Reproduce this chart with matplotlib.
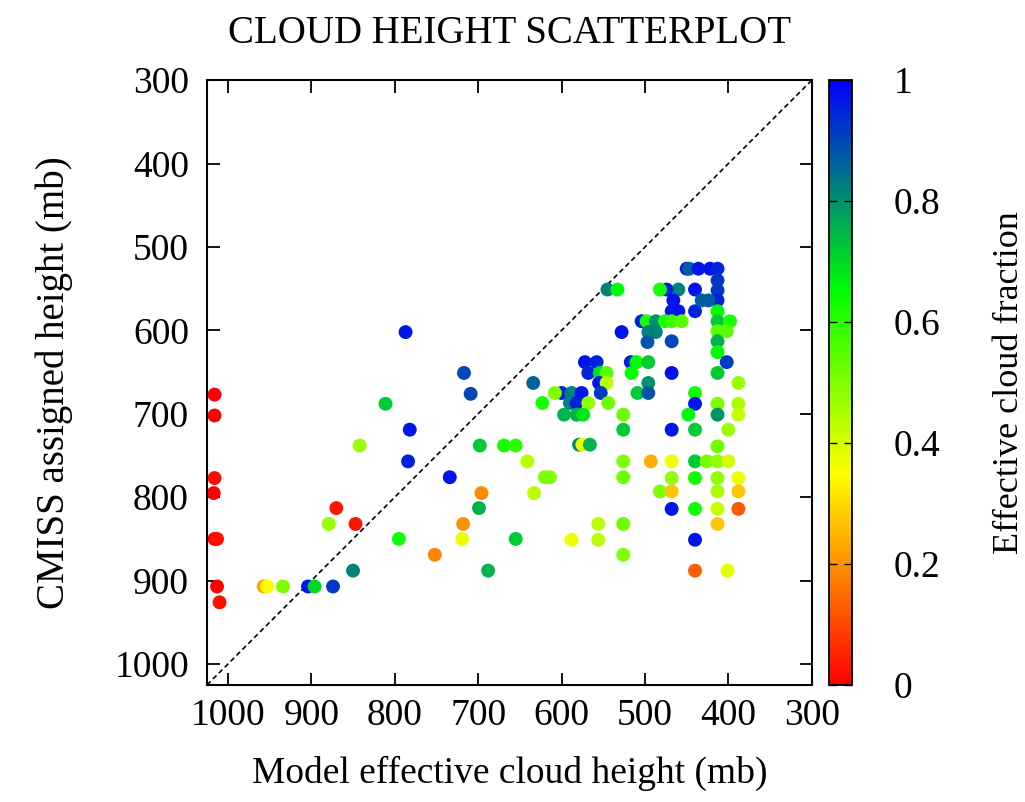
import matplotlib
matplotlib.use("Agg")
import matplotlib.pyplot as plt
from matplotlib.colors import LinearSegmentedColormap
import numpy as np

plt.rcParams['font.family'] = ['Liberation Serif', 'DejaVu Serif']

# Model effective cloud height (mb)
model_height = [
    1016, 1016, 1016, 1017, 1016, 1013, 1013, 1010,
    787, 717, 709, 811, 782, 842, 784, 734, 634, 698, 669, 655, 641, 633, 696, 699,
    870, 879, 847, 718, 795, 719, 655, 752, 850, 688, 957, 953, 934, 904, 896, 874,
    450, 447, 436, 422, 413,
    413, 413, 413, 413, 413, 413, 413, 413, 413,
    398, 402, 402,
    440, 440, 432, 424,
    460, 474, 482, 466, 468, 460,
    504, 498, 487, 476, 468, 456,
    468, 468,
    545, 533,
    528, 496, 487, 497,
    572, 558, 568, 554, 546,
    517, 510, 496, 516,
    555, 546, 553, 544,
    496, 509, 496,
    600, 588, 576, 608,
    623, 590, 582, 568,
    597, 582, 574,
    526, 526, 468,
    579, 575, 566,
    388, 440, 440, 413, 388,
    448, 413, 388,
    440, 400, 413,
    468, 440, 426, 413, 400,
    468, 440, 413, 388,
    482, 468, 413, 388,
    526, 493,
    620, 614, 526,
    468, 440, 413, 388,
    556, 526, 413,
    588, 556, 440,
    526, 440, 401,
]

# CMISS assigned height (mb)
cmiss_height = [
    677, 702, 777, 795, 850, 850, 907, 926,
    602, 651, 676, 688, 719, 738, 757, 776, 663, 738, 738, 738, 757, 795, 795, 813,
    813, 832, 832, 832, 850, 850, 850, 869, 888, 888, 907, 907, 907, 907, 907, 907,
    526, 526, 526, 526, 526,
    540, 552, 564, 577, 589, 601, 613, 626, 651,
    589, 601, 638,
    551, 577, 564, 564,
    551, 551, 551, 564, 577, 577,
    589, 589, 589, 589, 589, 589,
    613, 651,
    551, 551,
    602, 602, 602, 614,
    638, 638, 651, 651, 651,
    638, 638, 638, 651,
    663, 663, 675, 687,
    663, 675, 675,
    675, 675, 675, 675,
    687, 687, 687, 687,
    701, 701, 701,
    701, 719, 719,
    737, 737, 737,
    663, 675, 688, 688, 688,
    701, 701, 701,
    719, 719, 739,
    757, 757, 757, 757, 757,
    777, 777, 777, 777,
    793, 793, 793, 793,
    757, 757,
    776, 776, 776,
    814, 814, 814, 814,
    832, 832, 832,
    851, 851, 851,
    869, 888, 888,
]

# Effective cloud fraction
cloud_fraction = [
    0.0, 0.0, 0.02, 0.0, 0.0, 0.02, 0.0, 0.02,
    0.97, 0.9, 0.9, 0.72, 0.97, 0.47, 0.95, 0.97, 0.86, 0.72, 0.62, 0.6, 0.43, 0.43, 0.19, 0.75,
    0.03, 0.47, 0.03, 0.2, 0.63, 0.37, 0.72, 0.18, 0.82, 0.75, 0.22, 0.35, 0.5, 0.97, 0.7, 0.92,
    0.95, 0.87, 0.97, 0.97, 0.95,
    0.92, 0.92, 0.95, 0.65, 0.72, 0.55, 0.75, 0.65, 0.72,
    0.62, 0.55, 0.92,
    0.97, 0.95, 0.87, 0.87,
    0.82, 0.95, 0.62, 0.97, 0.97, 0.97,
    0.95, 0.62, 0.8, 0.62, 0.58, 0.55,
    0.9, 0.98,
    0.82, 0.65,
    0.97, 0.82, 0.82, 0.88,
    0.97, 0.95, 0.95, 0.68, 0.55,
    0.95, 0.65, 0.72, 0.65,
    0.97, 0.43, 0.92, 0.52,
    0.8, 0.72, 0.88,
    0.95, 0.82, 0.97, 0.5,
    0.62, 0.82, 0.95, 0.48,
    0.75, 0.75, 0.68,
    0.52, 0.72, 0.97,
    0.82, 0.37, 0.75,
    0.47, 0.63, 0.97, 0.5, 0.45,
    0.65, 0.8, 0.42,
    0.72, 0.47, 0.52,
    0.37, 0.72, 0.5, 0.48, 0.4,
    0.48, 0.63, 0.48, 0.37,
    0.5, 0.27, 0.45, 0.27,
    0.5, 0.24,
    0.5, 0.5, 0.52,
    0.97, 0.63, 0.42, 0.12,
    0.43, 0.52, 0.27,
    0.37, 0.43, 0.97,
    0.5, 0.13, 0.38,
]

axis_ticks = [1000, 900, 800, 700, 600, 500, 400, 300]
cbar_ticks = [0, 0.2, 0.4, 0.6, 0.8, 1]
cbar_ticklabels = ["0", "0.2", "0.4", "0.6", "0.8", "1"]

cmap = LinearSegmentedColormap.from_list(
    "gp", [(0.0, "#ff0000"), (0.35, "#ffff00"), (0.65, "#00ff00"), (1.0, "#0000ff")])

fig = plt.figure(figsize=(10.25, 8.02), dpi=100)
ax = fig.add_axes([0.202, 0.146, 0.590, 0.754])
cax = fig.add_axes([0.809, 0.146, 0.0224, 0.754])

lim = (1025, 300)
ax.plot(lim, lim, color="black", lw=1.2, ls=(0, (3, 2)), zorder=1)
sc = ax.scatter(model_height, cmiss_height, c=cloud_fraction, cmap=cmap,
                vmin=0, vmax=1, s=100, edgecolors="none", zorder=2)
ax.set_xlim(*lim)
ax.set_ylim(*lim)
ax.set_xticks(axis_ticks)
ax.set_yticks(axis_ticks)
ax.tick_params(direction="in", length=9, width=1.3, top=True, right=True,
               labelsize=27)
ax.tick_params(axis="y", pad=13)
ax.tick_params(axis="x", pad=10)
for s in ax.spines.values():
    s.set_linewidth(1.5)

ax.set_title("CLOUD HEIGHT SCATTERPLOT", fontsize=28, pad=27)
ax.set_xlabel("Model effective cloud height (mb)", fontsize=27, labelpad=16)
ax.set_ylabel("CMISS assigned height (mb)", fontsize=28, labelpad=30)

cb = fig.colorbar(sc, cax=cax, ticks=cbar_ticks)
cb.ax.set_yticklabels(cbar_ticklabels)
cb.ax.tick_params(direction="in", length=6, width=1.0, left=True, right=True,
                  labelsize=27, pad=30)
cb.outline.set_linewidth(1.3)
cb.set_label("Effective cloud fraction", fontsize=26, labelpad=38)

fig.savefig("out.png", dpi=100)
